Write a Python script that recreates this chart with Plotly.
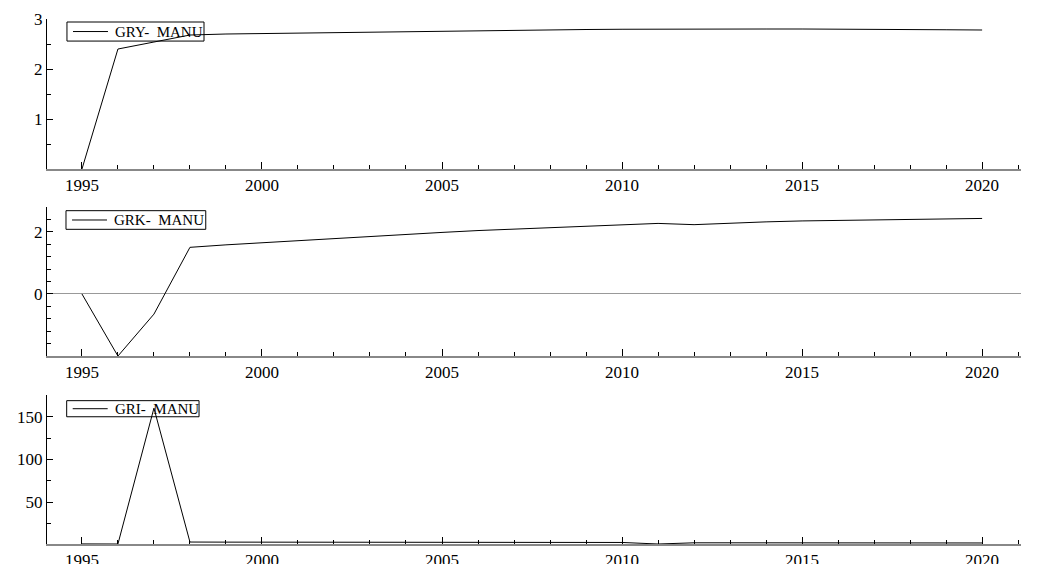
import plotly.graph_objects as go

years = list(range(1995, 2021))

gry = [0.0, 2.40, 2.54, 2.68, 2.70, 2.71, 2.72, 2.73, 2.74, 2.75, 2.76, 2.77, 2.78,
       2.785, 2.79, 2.795, 2.80, 2.80, 2.80, 2.80, 2.80, 2.80, 2.795, 2.79, 2.785, 2.78]

grk = [0.0, -2.0, -0.65, 1.50, 1.58, 1.65, 1.72, 1.79, 1.86, 1.92, 1.98, 2.04, 2.09,
       2.14, 2.19, 2.24, 2.27, 2.23, 2.28, 2.32, 2.35, 2.37, 2.39, 2.41, 2.42, 2.43]

gri = [0.9, 0.8, 160.0, 3.1, 3.0, 3.0, 3.0, 2.9, 2.9, 2.9, 2.9, 2.9, 2.8,
       2.8, 2.8, 2.6, 0.8, 2.2, 2.2, 2.2, 2.1, 2.1, 2.0, 2.0, 2.0, 2.0]

names = ["GRY-\u00a0 MANU", "GRK-\u00a0 MANU", "GRI-\u00a0 MANU"]
series = [gry, grk, gri]

y_ranges = [[0.0, 3.0], [-2.0, 2.8], [0.8, 175.4]]
y_tickvals = [[1, 2, 3], [0, 2], [50, 100, 150]]
y_minor = [0.5, 0.4, 25]
x_tickvals = [1995, 2000, 2005, 2010, 2015, 2020]

domains = [[0.714, 1.0], [0.358, 0.642], [0.0, 0.2838]]

# legend box geometry (axis-domain fractions)
box_x = [[0.0205, 0.1612], [0.0195, 0.1630], [0.0202, 0.1561]]
box_y = [[0.853, 0.980], [0.850, 0.975], [0.854, 0.962]]

FONT = "Liberation Serif"

fig = go.Figure()
for i, (nm, vals) in enumerate(zip(names, series)):
    fig.add_trace(go.Scatter(
        x=years, y=vals, mode="lines", name=nm,
        line=dict(color="black", width=1),
        xaxis="x" if i == 0 else f"x{i+1}",
        yaxis="y" if i == 0 else f"y{i+1}",
        showlegend=False,
    ))

layout = dict(
    width=1041, height=564,
    margin=dict(l=47, r=20, t=19, b=20, autoexpand=False),
    paper_bgcolor="white", plot_bgcolor="white",
    font=dict(family=FONT, size=17, color="black"),
    showlegend=False,
)

shapes = []
annotations = []
for i in range(3):
    xs = "xaxis" if i == 0 else f"xaxis{i+1}"
    ys = "yaxis" if i == 0 else f"yaxis{i+1}"
    yref = "y" if i == 0 else f"y{i+1}"
    xref = "x" if i == 0 else f"x{i+1}"
    layout[xs] = dict(
        domain=[0, 1], anchor=yref, range=[1994.03, 2021.08],
        tickvals=x_tickvals, ticktext=[str(v) for v in x_tickvals],
        ticks="inside", ticklen=7, tickcolor="black", tickwidth=1,
        minor=dict(dtick=1, tick0=1995, ticks="inside", ticklen=4, tickcolor="black", tickwidth=1),
        showline=True, linecolor="#888888", linewidth=1.5,
        showgrid=False, zeroline=False, automargin=False,
        tickfont=dict(family=FONT, size=17, color="black"),
    )
    layout[ys] = dict(
        domain=domains[i], anchor=xref, range=y_ranges[i],
        tickvals=y_tickvals[i],
        ticks="inside", ticklen=6, tickcolor="black", tickwidth=1,
        minor=dict(dtick=y_minor[i], tick0=0, ticks="inside", ticklen=4, tickcolor="black", tickwidth=1),
        showline=True, linecolor="black", linewidth=1,
        showgrid=False, automargin=False,
        zeroline=(i == 1), zerolinecolor="#999999", zerolinewidth=1,
        tickfont=dict(family=FONT, size=17, color="black"),
    )
    xd = f"{xref} domain"
    yd = f"{yref} domain"
    x0, x1 = box_x[i]
    y0, y1 = box_y[i]
    ym = (y0 + y1) / 2
    shapes.append(dict(type="rect", xref=xd, yref=yd, x0=x0, x1=x1, y0=y0, y1=y1,
                       line=dict(color="black", width=1), fillcolor="rgba(0,0,0,0)"))
    shapes.append(dict(type="line", xref=xd, yref=yd, x0=x0 + 0.0062, x1=x0 + 0.0421,
                       y0=ym, y1=ym, line=dict(color="black", width=1)))
    annotations.append(dict(xref=xd, yref=yd, x=x0 + 0.0473, y=ym, xanchor="left",
                            yanchor="middle", text=names[i], showarrow=False,
                            font=dict(family=FONT, size=15, color="black")))

layout["shapes"] = shapes
layout["annotations"] = annotations
fig.update_layout(**layout)
fig.write_html(
    "out.html",
    config={"displayModeBar": False},
    post_script="document.body.style.margin='0';document.body.style.padding='0';document.body.style.overflow='hidden';",
)
